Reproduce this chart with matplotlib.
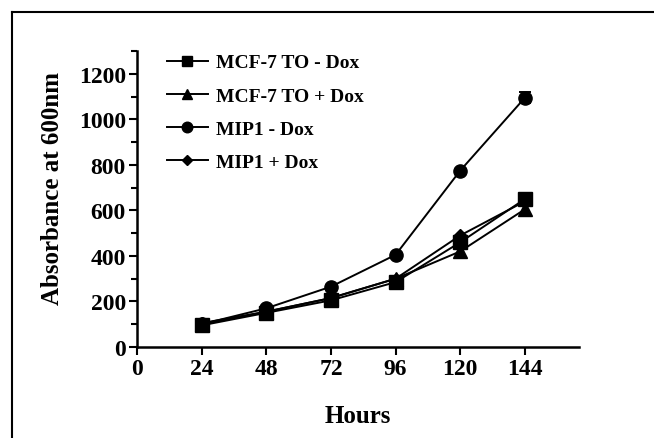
import matplotlib
matplotlib.use("Agg")
import matplotlib.pyplot as plt
from matplotlib.lines import Line2D
from matplotlib.ticker import MultipleLocator


hours = [24, 48, 72, 96, 120, 144]

mcf7_minus_dox = [95, 150, 205, 285, 460, 650]
mcf7_plus_dox = [100, 155, 215, 300, 420, 605]
mip1_minus_dox = [100, 170, 265, 405, 775, 1095]
mip1_plus_dox = [105, 155, 215, 300, 490, 640]

mip1_minus_dox_err = [0, 0, 0, 0, 0, 25]

x_ticks = [0, 24, 48, 72, 96, 120, 144]
y_ticks = [0, 200, 400, 600, 800, 1000, 1200]


def create_growth_chart() -> None:
    plt.rcParams["font.family"] = ["Liberation Serif", "DejaVu Serif"]
    plt.rcParams["font.weight"] = "bold"

    fig = plt.figure(figsize=(6.54, 4.39), dpi=100)
    ax = fig.add_axes([0.2095, 0.2073, 0.6755, 0.6742])

    # scanned-figure frame: left and top edges only
    fx = 12 / 654
    fy = 1 - 13 / 439
    fig.add_artist(Line2D([fx, fx], [0, fy], color="black", lw=1.5,
                          transform=fig.transFigure))
    fig.add_artist(Line2D([fx, 1], [fy, fy], color="black", lw=1.5,
                          transform=fig.transFigure))

    style = dict(color="black", lw=1.4, markeredgecolor="black",
                 markerfacecolor="black", clip_on=False)

    ax.plot(hours, mcf7_minus_dox, marker="s", markersize=9.5,
            label="MCF-7 TO - Dox", **style)
    ax.plot(hours, mcf7_plus_dox, marker="^", markersize=9.5,
            label="MCF-7 TO + Dox", **style)
    ax.errorbar(hours, mip1_minus_dox, yerr=mip1_minus_dox_err, fmt="none",
                ecolor="black", capsize=4.5, elinewidth=1.4, capthick=1.4,
                clip_on=False)
    ax.plot(hours, mip1_minus_dox, marker="o", markersize=9.5,
            label="MIP1 - Dox", **style)
    ax.plot(hours, mip1_plus_dox, marker="D", markersize=6.5,
            label="MIP1 + Dox", **style)

    ax.set_xlim(0, 164)
    ax.set_ylim(0, 1300)
    ax.set_xticks(x_ticks)
    ax.set_yticks(y_ticks)
    ax.yaxis.set_minor_locator(MultipleLocator(100))

    for side in ["top", "right"]:
        ax.spines[side].set_visible(False)
    for side in ["left", "bottom"]:
        ax.spines[side].set_linewidth(1.8)

    ax.tick_params(axis="both", which="major", length=6, width=1.5,
                   labelsize=17, pad=2)
    ax.tick_params(axis="y", which="minor", length=4, width=1.5)

    ax.set_xlabel("Hours", fontsize=18, fontweight="bold", labelpad=18)
    ax.set_ylabel("Absorbance at 600nm", fontsize=18, fontweight="bold")
    ax.yaxis.set_label_coords(-0.166, 0.539)

    ax.legend(loc="upper left", bbox_to_anchor=(0.05, 1.017), frameon=False,
              prop={"size": 14, "weight": "bold"}, handlelength=2.1,
              handletextpad=0.45, labelspacing=0.8, borderaxespad=0,
              markerscale=0.8)

    fig.savefig("out.png", dpi=100)
    plt.close(fig)


if __name__ == "__main__":
    create_growth_chart()
